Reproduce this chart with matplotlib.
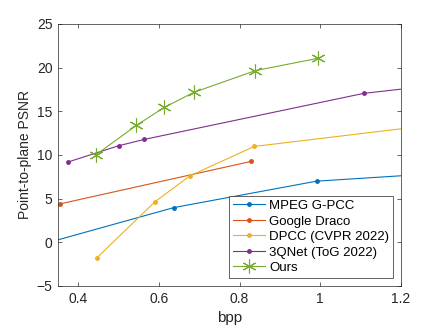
import numpy as np
import matplotlib.pyplot as plt

plt.rcParams['font.family'] = ['Liberation Sans', 'DejaVu Sans']

# данные (bpp, PSNR)
gpcc_bpp = [0.25, 0.6375, 0.991, 1.5]
gpcc_psnr = [-1.0, 3.98, 7.0, 8.5]

draco_bpp = [0.355, 0.8275]
draco_psnr = [4.4, 9.25]

dpcc_bpp = [0.446, 0.590, 0.677, 0.836, 1.4]
dpcc_psnr = [-1.79, 4.63, 7.61, 10.97, 14.1]

qnet_bpp = [0.374, 0.500, 0.564, 1.108, 1.3]
qnet_psnr = [9.18, 11.05, 11.78, 17.05, 18.05]

ours_bpp = [0.443, 0.544, 0.6135, 0.687, 0.839, 0.994]
ours_psnr = [9.98, 13.38, 15.45, 17.17, 19.65, 21.06]

labels = ['MPEG G-PCC', 'Google Draco', 'DPCC (CVPR 2022)', '3QNet (ToG 2022)', 'Ours']
colors = ['#0072BD', '#D95319', '#EDB120', '#7E2F8E', '#77AC30']

fig = plt.figure(figsize=(4.43, 3.32), dpi=100)
ax = fig.add_axes([0.131, 0.1386, 0.774, 0.7894])

series = [(gpcc_bpp, gpcc_psnr), (draco_bpp, draco_psnr), (dpcc_bpp, dpcc_psnr),
          (qnet_bpp, qnet_psnr)]
for (x, y), lab, c in zip(series, labels[:4], colors[:4]):
    ax.plot(x, y, color=c, lw=0.8, marker='.', ms=5, label=lab)
ax.plot(ours_bpp, ours_psnr, color=colors[4], lw=0.8, marker=(6, 2, 0), ms=10,
        mew=0.8, label=labels[4])

ax.set_xlim(0.35, 1.2)
ax.set_ylim(-5, 25)
ax.set_xticks([0.4, 0.6, 0.8, 1.0, 1.2])
ax.set_xticklabels(['0.4', '0.6', '0.8', '1', '1.2'])
ax.set_yticks(np.arange(-5, 26, 5))
ax.tick_params(direction='in', top=True, right=True, labelsize=10, colors='#262626',
               length=3, width=0.5, pad=4)
for s in ax.spines.values():
    s.set_color('#262626')
    s.set_linewidth(0.5)
ax.set_xlabel('bpp', fontsize=11, color='#262626')
ax.set_ylabel('Point-to-plane PSNR', fontsize=10, color='#262626', labelpad=3)

leg = ax.legend(loc='lower right', fontsize=9.5, fancybox=False, framealpha=1,
                edgecolor='#262626', borderpad=0.3, labelspacing=0.25,
                handlelength=2.4, handletextpad=0.3, borderaxespad=0.6)
leg.get_frame().set_linewidth(0.5)

fig.savefig('out.png', dpi=100)
